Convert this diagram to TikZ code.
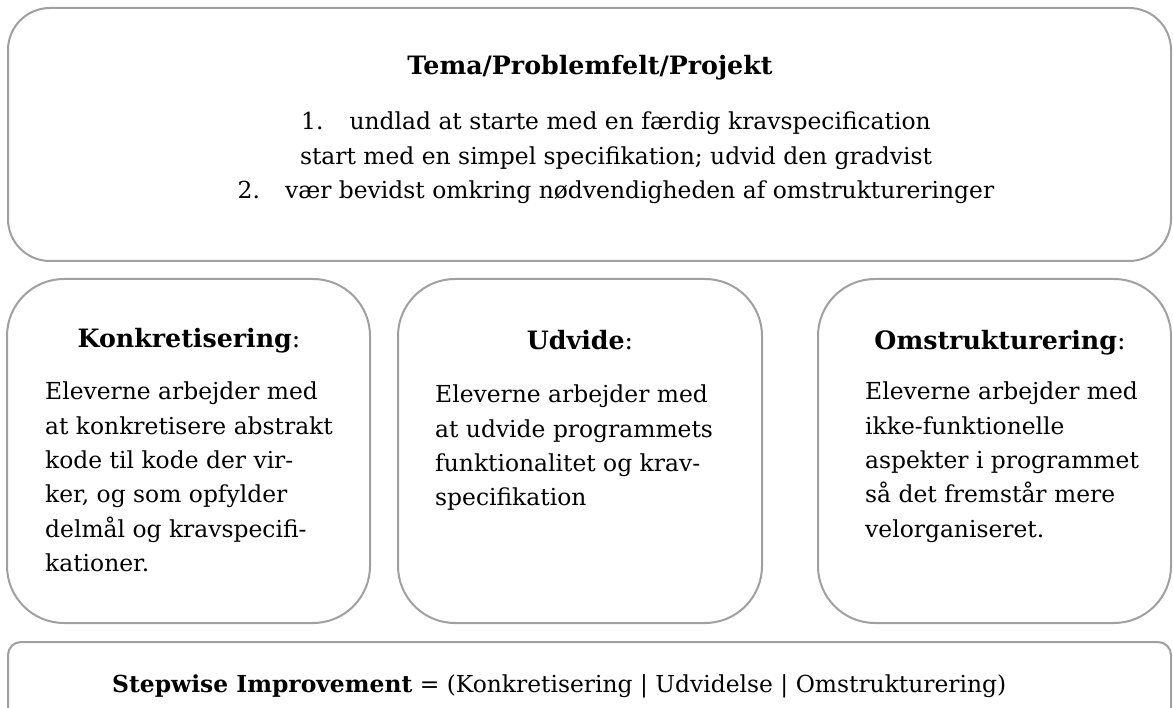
\documentclass[tikz,border=0pt]{standalone}
\usepackage{fontspec}
\setmainfont{DejaVu Serif}
\begin{document}
\begin{tikzpicture}[x=1pt,y=-1pt,
  boxline/.style={draw=boxgray,line width=2pt},
  bodytxt/.style={inner sep=0pt,align=left,font=\fontsize{23.4}{34.3}\selectfont},
  headtxt/.style={inner sep=0pt,anchor=base,font=\fontsize{25.3}{30}\selectfont},
  toptxt/.style={inner sep=0pt,anchor=base,font=\fontsize{23.4}{30}\selectfont}]
\definecolor{boxgray}{HTML}{A0A0A0}
\useasboundingbox (0,0) rectangle (1173,708);
\fill[white] (0,0) rectangle (1173,708);
% boxes
\draw[boxline,rounded corners=42pt] (8,8) rectangle (1171,261);
\draw[boxline,rounded corners=57pt] (7,279) rectangle (370,623);
\draw[boxline,rounded corners=57pt] (398,279) rectangle (762,623);
\draw[boxline,rounded corners=57pt] (818,279) rectangle (1171,623);
\draw[boxline,rounded corners=13pt] (8,642) rectangle (1171,730);
% top box
\node[headtxt] (title) at (590,75) {\textbf{Tema/Problemfelt/Projekt}};
\node[toptxt] (l1) at (616,130) {1.\hspace{26pt}undlad at starte med en færdig kravspecification};
\node[toptxt] (l2) at (616,165) {start med en simpel specifikation; udvid den gradvist};
\node[toptxt] (l3) at (616,199) {2.\hspace{25pt}vær bevidst omkring nødvendigheden af omstruktureringer};
% middle boxes
\node[headtxt] (h1) at (189,348) {\textbf{Konkretisering}:};
\node[bodytxt,anchor=north west] (b1) at (45,382) {Eleverne arbejder med\\at konkretisere abstrakt\\kode til kode der vir-\\ker, og som opfylder\\delmål og kravspecifi-\\kationer.};
\node[headtxt] (h2) at (580,350) {\textbf{Udvide}:};
\node[bodytxt,anchor=north west] (b2) at (435,385) {Eleverne arbejder med\\at udvide programmets\\funktionalitet og krav-\\specifikation};
\node[headtxt] (h3) at (1000,350) {\textbf{Omstrukturering}:};
\node[bodytxt,anchor=north west] (b3) at (865,382) {Eleverne arbejder med\\ikke-funktionelle\\aspekter i programmet\\så det fremstår mere\\velorganiseret.};
% bottom
\node[toptxt,anchor=base west] (sw) at (112,692) {\textbf{Stepwise Improvement} = (Konkretisering | Udvidelse | Omstrukturering)};
\end{tikzpicture}
\end{document}
